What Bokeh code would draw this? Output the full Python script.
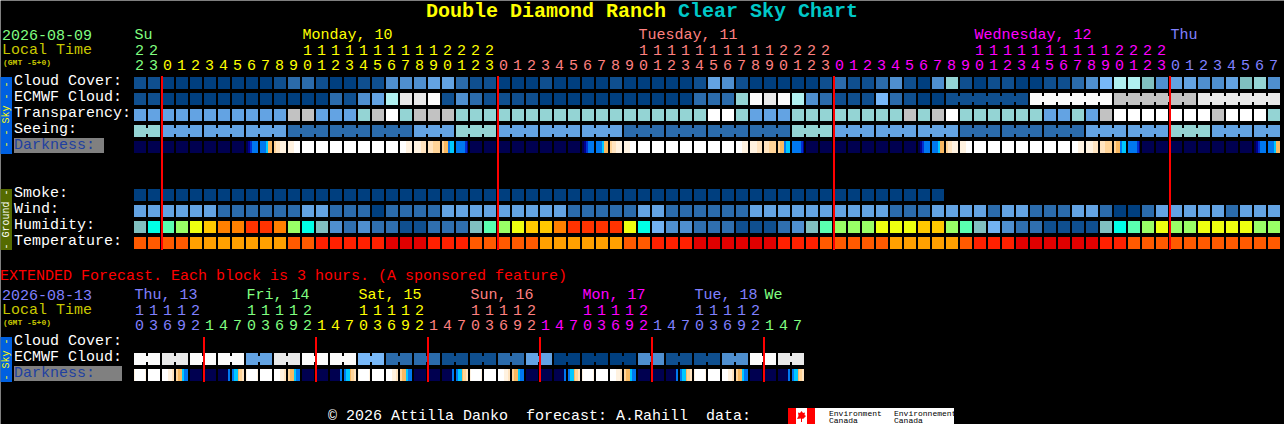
import math
from bokeh.plotting import figure
from bokeh.models import Range1d
from bokeh.core.properties import value
from bokeh.embed import file_html
from bokeh.resources import INLINE

# ---------- palettes ----------
SKY_PALETTE = ["#003f7f", "#0f4f8f", "#2b6bab", "#4f8fcf", "#63a3e3", "#78b8f8", "#80c0c0",
               "#94d4d4", "#b0f0f0", "#c2c2c2", "#e9e9e9", "#fbfbfb", "#ffffff"]
HUM_PALETTE = ["#0f4f8f", "#2f6faf", "#4f8fcf", "#72b2f2", "#80c0c0", "#00ffe6", "#5affb0",
               "#99ff66", "#eeff10", "#ffc800", "#ff8000", "#ff3300"]
TEMP_PALETTE = ["#ff5a00", "#ffa000", "#ff2000", "#e00000"]
DARK_PALETTE = {"a": "#000050", "b": "#000090", "c": "#0030d0", "d": "#0078f0", "e": "#00c8ff",
                "f": "#f8b860", "g": "#ffd498", "h": "#ffe4c0", "i": "#fff2e0", "j": "#ffffff"}

# ---------- main forecast data (one value per hour) ----------
cloud = [1,1,0,0,0,0,0,0,0,0,1,2,2,1,0,0,1,1,3,3,3,4,4,2,1,1,
         0,0,0,1,0,0,0,0,1,0,0,0,0,0,1,4,3,1,0,0,0,0,0,1,2,1,
         1,2,3,1,0,3,7,1,0,1,1,0,0,1,1,2,3,5,8,8,6,3,4,4,3,3,4,6,7,3]
ecmwf = [1,1,0,0,0,0,0,0,0,0,0,0,0,0,2,1,3,4,8,10,10,11,1,3,2,1,
         1,1,1,0,0,0,0,0,0,0,0,0,0,0,2,2,2,7,11,10,11,8,3,2,1,1,
         1,5,2,1,0,0,1,1,1,1,1,1,11,11,11,11,11,11,9,9,9,9,9,9,10,10,10,10,10,10]
ecmwf_groups = [1]*58 + [6,6,6,6]
transparency = [4,4,4,4,4,4,4,4,4,4,4,9,9,4,4,4,7,9,12,7,9,9,9,
                7,7,7,7,7,7,7,7,7,7,7,7,7,7,7,7,7,7,12,12,7,4,4,4,
                7,7,7,7,7,7,7,7,9,7,9,12,7,7,7,7,7,7,4,4,7,4,9,
                12,12,12,12,12,12,12,9,12,12,12,7]
seeing = [7,7, 4,4,4, 4,4,4, 4,4,4, 2,2,2, 2,2,2, 2,2,2, 4,4,4, 7,7,7,
          4,4,4, 4,4,4, 4,4,4, 2,2,2, 2,2,2, 2,2,2, 2,2,2, 7,7,7,
          4,4,4, 4,4,4, 4,4,4, 2,2,2, 2,2,2, 2,2,2, 4,4,4, 4,4,4, 7,7,7, 4,4,4, 4,4]
seeing_groups = [2] + [3]*26 + [2]
N = "aaaaaaaaaaaa"
W = "jjjjjjjjjjjj"
darkness = [N, N, N, N, N, N, N, N,
            "aabbccdddddd", "ddddddeeffff", "gghhhhiiiiii", "iiiiiijjjjjj", W, W, W, W, W, W, W,
            "jjjjjjiiiiii", "iiiiiiihhhhh", "hhhhhggggggg", "ggffffddeeee", "dddddddddccb",
            N, N, N, N, N, N, N, N,
            "aabbccdddddd", "ddddddeeffff", "gghhhhiiiiii", "iiiiiijjjjjj", W, W, W, W, W, W, W,
            "jjjjjjiiiiii", "iiiiiiihhhhh", "hhhhhggggggg", "ggffffddeeee", "dddddddddccb",
            N, N, N, N, N, N, N, N,
            "aabbccdddddd", "ddddddeeffff", "gghhhhiiiiii", "iiiiiijjjjjj", W, W, W, W, W, W, W,
            "jjjjjjiiiiii", "iiiiiiihhhhh", "hhhhhggggggg", "ggffffddeeee", "dddddddddccb",
            N, N, N, N, N, N, N, N,
            "aabbccdddddd", "ddddddeeffff"]
smoke = [0]*58
wind = [4,4,4,4,4,4,2,2,2,2,2,2,4,4,2,2,2,0,2,2,2,2,4,4,4,4,
        4,4,4,4,4,2,2,2,2,2,4,4,2,2,2,2,2,2,4,4,4,4,4,4,4,4,
        4,4,2,2,2,4,4,4,4,2,4,4,2,2,2,4,4,2,0,0,2,4,4,4,4,4,2,4,4,4]
humidity = [4,5,6,7,8,9,10,10,11,11,10,7,5,4,2,1,2,1,1,0,0,1,1,1,4,6,
            7,8,9,9,10,11,11,11,11,8,5,3,2,2,1,1,1,0,0,0,1,2,4,6,7,7,
            7,8,8,8,9,9,7,6,4,3,2,1,1,0,0,0,0,4,5,6,7,8,7,7,8,8,8,8,7,7]
temperature = [0,0,0,0,1,1,1,1,1,1,1,0,0,2,2,2,2,2,3,3,3,2,2,2,0,0,
               0,0,0,1,1,1,1,1,1,0,0,2,2,2,3,3,3,3,3,3,2,2,2,0,0,0,
               0,0,1,1,1,1,1,0,2,2,2,3,3,3,3,3,3,2,2,0,0,0,0,0,0,0,0,0,0,0]
main_units = "23" + "012345678901234567890123" * 3 + "01234567"
main_tens = "22" + "          11111111112222" * 3 + "        "
main_day_spans = [("#80ff80", 2), ("#ffff00", 24), ("#ff8080", 24), ("#ff00ff", 24), ("#8080ff", 8)]
main_days = [("Su", 0, "#80ff80"), ("Monday, 10", 12, "#ffff00"), ("Tuesday, 11", 36, "#ff8080"),
             ("Wednesday, 12", 60, "#ff00ff"), ("Thu", 74, "#8080ff")]
main_midnights = [2, 26, 50, 74]

# ---------- extended forecast data (one value per 3 hours) ----------
ext_ecmwf = [11,11,10,10,11,11,11,11,4,4,10,10,11,11,11,11,5,5,2,2,2,2,1,1,
             1,1,2,2,4,4,0,0,0,0,0,0,3,3,1,1,1,1,3,3,11,11,10,10]
ext_ecmwf_groups = [2]*24
ext_darkness = ["ijjjjjjjjjji", W, "jjjjjjiiiihh", "ggffffeedddd", N, N, "aaaaaaaaaadd", "ddeeeefggghh"] * 6
ext_units = "03692" + "14703692" * 5 + "147"
ext_tens = "11112" + "   11112" * 5 + "   "
ext_day_spans = [("#8080ff", 5), ("#80ff80", 8), ("#ffff00", 8), ("#ff8080", 8), ("#ff00ff", 8), ("#8080ff", 8), ("#80ff80", 3)]
ext_days = [("Thu, 13", 0, "#8080ff"), ("Fri, 14", 8, "#80ff80"), ("Sat, 15", 16, "#ffff00"),
            ("Sun, 16", 24, "#ff8080"), ("Mon, 17", 32, "#ff00ff"), ("Tue, 18", 40, "#8080ff"), ("We", 45, "#80ff80")]
ext_midnights = [5, 13, 21, 29, 37, 45]

assert len(cloud) == len(ecmwf) == len(transparency) == len(seeing) == len(wind) == len(humidity) == len(temperature) == len(darkness) == 82, \
    (len(cloud), len(ecmwf), len(transparency), len(seeing), len(wind), len(humidity), len(temperature), len(darkness))
assert len(ext_ecmwf) == len(ext_darkness) == 48

# ---------- layout ----------
X0, PITCH, BLOCK = 134, 14, 12
FONT = "Liberation Mono"

# half-pixel range offset: Bokeh's SVG context is translated by 0.5, this keeps the blocks on whole pixels
p = figure(width=1284, height=424, output_backend="svg", toolbar_location=None,
           x_range=Range1d(0.5, 1284.5), y_range=Range1d(424.5, 0.5), min_border=0,
           background_fill_color="#000000", border_fill_color="#000000", outline_line_color=None)
p.axis.visible = False
p.grid.visible = False


def rect(l, r, t, b, color):
    p.quad(left=l, right=r, top=t, bottom=b, fill_color=color, line_color=None)


def label(x, y, txt, color, size=15, bold=False, align="left", angle=0.0, font=FONT):
    p.text(x=[x], y=[y], text=[txt], text_color=color, text_font=value(font),
           text_font_size=value(f"{size}px"), text_font_style="bold" if bold else "normal",
           text_align=align, text_baseline="middle", angle=angle)


def col_left(c):
    return X0 + PITCH * c


def level_row(levels, palette, top, groups=None):
    lefts = [col_left(c) for c in range(len(levels))]
    p.quad(left=lefts, right=[v + BLOCK for v in lefts], top=[top] * len(lefts), bottom=[top + BLOCK] * len(lefts),
           fill_color=[palette[v] for v in levels], line_color=None)
    if groups:
        c = 0
        for size in groups:
            for k in range(c, c + size - 1):
                rect(col_left(k) + BLOCK, col_left(k + 1), top + 3, top + BLOCK - 3, palette[levels[k]])
            c += size


def dark_row(strings, top):
    # every slice reaches the block's right edge; later slices paint over it, so no seams show
    ls, rs, cs = [], [], []
    for c, s in enumerate(strings):
        for i, ch in enumerate(s):
            if i and s[i - 1] == ch:
                continue
            ls.append(col_left(c) + i)
            rs.append(col_left(c) + BLOCK)
            cs.append(DARK_PALETTE[ch])
    p.quad(left=ls, right=rs, top=[top] * len(ls), bottom=[top + BLOCK] * len(ls),
           fill_color=cs, line_color=None)


def tick_row(chars, spans, y):
    colors = []
    for color, n in spans:
        colors += [color] * n
    xs = [col_left(c) + 5.5 for c in range(len(chars))]
    keep = [i for i, ch in enumerate(chars) if ch != " "]
    p.text(x=[xs[i] for i in keep], y=[y] * len(keep), text=[chars[i] for i in keep],
           text_color=[colors[i] for i in keep], text_font=value(FONT), text_font_size=value("15px"),
           text_align="center", text_baseline="middle")


# title
label(426, 11, "Double Diamond Ranch", "#ffff00", size=20, bold=True)
label(678, 11, "Clear Sky Chart", "#00c8c8", size=20, bold=True)

# main header
label(2, 35, "2026-08-09", "#80ff80")
label(2, 50, "Local Time", "#c8c800")
label(3, 62, "(GMT -5+0)", "#c8c800", size=8, bold=True)
for txt, c, color in main_days:
    label(col_left(c) + 0.5, 35, txt, color)
tick_row(main_tens, main_day_spans, 50)
tick_row(main_units, main_day_spans, 65)

# side bars
rect(0, 12, 77, 154, "#0060e0")
label(6, 114.5, "- - Sky - -", "#ffff00", size=10, align="center", angle=math.pi / 2)
rect(0, 12, 189, 250, "#556b00")
label(6, 219.5, "- Ground -", "#ffffff", size=10, align="center", angle=math.pi / 2)
rect(0, 12, 337, 382, "#0060e0")
label(6, 359.5, "- Sky -", "#ffff00", size=10, align="center", angle=math.pi / 2)

# row labels
for txt, y in [("Cloud Cover:", 81.5), ("ECMWF Cloud:", 97.5), ("Transparency:", 113.5), ("Seeing:", 129.5),
               ("Smoke:", 193.5), ("Wind:", 209.5), ("Humidity:", 225.5), ("Temperature:", 241.5),
               ("Cloud Cover:", 341.5), ("ECMWF Cloud:", 357.5)]:
    label(14, y, txt, "#ffffff")
rect(14, 104, 138, 153, "#808080")
label(14, 145.5, "Darkness:", "#2040a0")
rect(14, 122, 366, 381, "#808080")
label(14, 373.5, "Darkness:", "#2040a0")

# rows
level_row(cloud, SKY_PALETTE, 77)
level_row(ecmwf, SKY_PALETTE, 93, ecmwf_groups)
level_row(transparency, SKY_PALETTE, 109)
level_row(seeing, SKY_PALETTE, 125, seeing_groups)
dark_row(darkness, 141)
level_row(smoke, SKY_PALETTE, 189)
level_row(wind, SKY_PALETTE, 205)
level_row(humidity, HUM_PALETTE, 221)
level_row(temperature, TEMP_PALETTE, 237)

# midnights
p.segment(x0=[col_left(c) for c in main_midnights], x1=[col_left(c) for c in main_midnights],
          y0=[76] * 4, y1=[250] * 4, line_color="#ff0000", line_width=2)

# extended
label(0, 276, "EXTENDED Forecast. Each block is 3 hours. (A sponsored feature)", "#ff0000")
label(2, 295, "2026-08-13", "#8080ff")
label(2, 310, "Local Time", "#c8c800")
label(3, 322, "(GMT -5+0)", "#c8c800", size=8, bold=True)
for txt, c, color in ext_days:
    label(col_left(c) + 0.5, 295, txt, color)
tick_row(ext_tens, ext_day_spans, 310)
tick_row(ext_units, ext_day_spans, 325)
level_row(ext_ecmwf, SKY_PALETTE, 353, ext_ecmwf_groups)
dark_row(ext_darkness, 369)
p.segment(x0=[col_left(c) for c in ext_midnights], x1=[col_left(c) for c in ext_midnights],
          y0=[337] * 6, y1=[382] * 6, line_color="#ff0000", line_width=2)

# footer
label(328, 416.5, "\u00a9 2026 Attilla Danko", "#ffffff")
label(526, 416.5, "forecast: A.Rahill", "#ffffff")
label(706, 416.5, "data:", "#ffffff")
rect(788, 954, 408, 424, "#ffffff")
rect(788, 796, 408, 424, "#ff0000")
rect(807, 815, 408, 424, "#ff0000")
p.patch(x=[801.5, 803, 805, 804.5, 806, 803, 802, 802, 801, 801, 797, 798.5, 798, 800],
        y=[411, 413, 412.5, 415, 416, 419, 418.5, 422, 422, 418.5, 419, 416, 412.5, 413],
        fill_color="#ff0000", line_color=None)
label(829, 413, "Environment", "#000000", size=8)
label(829, 420.5, "Canada", "#000000", size=8)
label(894, 413, "Environnement", "#000000", size=8)
label(894, 420.5, "Canada", "#000000", size=8)

open("out.html", "w").write(file_html(p, INLINE))
